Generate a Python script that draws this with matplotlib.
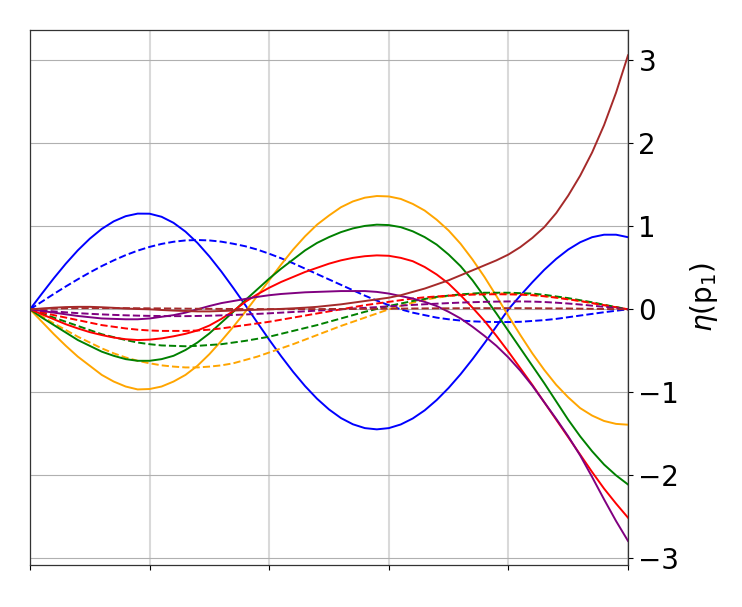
import numpy as np
import matplotlib
matplotlib.use("Agg")
import matplotlib.pyplot as plt

x = [0.00, 0.02, 0.04, 0.06, 0.08, 0.10, 0.12, 0.14, 0.16, 0.18, 0.20,
     0.22, 0.24, 0.26, 0.28, 0.30, 0.32, 0.34, 0.36, 0.38, 0.40,
     0.42, 0.44, 0.46, 0.48, 0.50, 0.52, 0.54, 0.56, 0.58, 0.60,
     0.62, 0.64, 0.66, 0.68, 0.70, 0.72, 0.74, 0.76, 0.78, 0.80,
     0.82, 0.84, 0.86, 0.88, 0.90, 0.92, 0.94, 0.96, 0.98, 1.00]

blue_solid = [0, 0.190, 0.376, 0.551, 0.711, 0.851, 0.969, 1.060, 1.122, 1.153, 1.152,
              1.115, 1.042, 0.936, 0.800, 0.637, 0.455, 0.257, 0.052, -0.158, -0.366,
              -0.565, -0.753, -0.925, -1.077, -1.206, -1.310, -1.385, -1.431, -1.446, -1.431,
              -1.387, -1.315, -1.217, -1.093, -0.947, -0.782, -0.600, -0.407, -0.205, 0.0,
              0.166, 0.326, 0.476, 0.608, 0.720, 0.808, 0.869, 0.899, 0.899, 0.869]
blue_dashed = [0, 0.093, 0.186, 0.276, 0.362, 0.444, 0.521, 0.590, 0.653, 0.707, 0.752,
               0.788, 0.814, 0.830, 0.835, 0.830, 0.815, 0.790, 0.760, 0.720, 0.670,
               0.615, 0.555, 0.490, 0.425, 0.360, 0.295, 0.230, 0.165, 0.105, 0.050,
               0.0, -0.04, -0.07, -0.10, -0.12, -0.135, -0.145, -0.15, -0.153, -0.153,
               -0.15, -0.14, -0.13, -0.115, -0.095, -0.075, -0.055, -0.035, -0.017, 0]
orange_solid = [0, -0.15, -0.30, -0.44, -0.57, -0.68, -0.79, -0.87, -0.93, -0.965, -0.96,
                -0.93, -0.87, -0.79, -0.68, -0.54, -0.38, -0.21, -0.03, 0.16, 0.35,
                0.54, 0.72, 0.88, 1.02, 1.13, 1.23, 1.30, 1.345, 1.365, 1.36,
                1.33, 1.27, 1.19, 1.08, 0.95, 0.79, 0.60, 0.39, 0.16, -0.08,
                -0.31, -0.53, -0.73, -0.91, -1.06, -1.19, -1.28, -1.345, -1.38, -1.39]
orange_dashed = [0, -0.085, -0.17, -0.25, -0.33, -0.40, -0.47, -0.53, -0.58, -0.62, -0.65,
                 -0.675, -0.69, -0.70, -0.70, -0.69, -0.675, -0.65, -0.61, -0.57, -0.52,
                 -0.47, -0.42, -0.365, -0.31, -0.255, -0.20, -0.15, -0.10, -0.05, 0.0,
                 0.04, 0.08, 0.115, 0.14, 0.16, 0.175, 0.185, 0.19, 0.193, 0.19,
                 0.185, 0.175, 0.16, 0.145, 0.125, 0.10, 0.075, 0.05, 0.025, 0]
green_solid = [0, -0.10, -0.19, -0.28, -0.37, -0.44, -0.51, -0.56, -0.60, -0.62, -0.62,
               -0.60, -0.56, -0.49, -0.40, -0.29, -0.16, -0.03, 0.11, 0.24, 0.37,
               0.49, 0.60, 0.71, 0.80, 0.87, 0.93, 0.975, 1.005, 1.02, 1.015,
               0.99, 0.94, 0.87, 0.78, 0.66, 0.52, 0.35, 0.15, -0.05, -0.26,
               -0.47, -0.68, -0.89, -1.11, -1.33, -1.53, -1.71, -1.87, -2.00, -2.11]
green_dashed = [0, -0.05, -0.10, -0.15, -0.20, -0.25, -0.30, -0.335, -0.37, -0.40, -0.42,
                -0.435, -0.44, -0.445, -0.44, -0.43, -0.42, -0.40, -0.38, -0.355, -0.33,
                -0.295, -0.26, -0.225, -0.19, -0.15, -0.11, -0.07, -0.03, 0.005, 0.04,
                0.07, 0.10, 0.125, 0.15, 0.165, 0.18, 0.19, 0.20, 0.20, 0.20,
                0.195, 0.19, 0.175, 0.155, 0.135, 0.11, 0.085, 0.055, 0.028, 0]
red_solid = [0, -0.06, -0.12, -0.18, -0.23, -0.275, -0.31, -0.34, -0.36, -0.37, -0.365,
             -0.35, -0.325, -0.295, -0.255, -0.195, -0.115, -0.02, 0.09, 0.18, 0.26,
             0.33, 0.39, 0.45, 0.50, 0.55, 0.59, 0.62, 0.64, 0.65, 0.645,
             0.62, 0.58, 0.51, 0.42, 0.31, 0.17, 0.02, -0.14, -0.32, -0.51,
             -0.71, -0.91, -1.12, -1.33, -1.54, -1.75, -1.96, -2.16, -2.34, -2.51]
red_dashed = [0, -0.035, -0.07, -0.10, -0.13, -0.16, -0.19, -0.21, -0.23, -0.245, -0.255,
              -0.26, -0.26, -0.26, -0.255, -0.245, -0.23, -0.21, -0.19, -0.17, -0.15,
              -0.125, -0.10, -0.075, -0.05, -0.025, 0.0, 0.025, 0.05, 0.07, 0.09,
              0.11, 0.13, 0.145, 0.155, 0.165, 0.17, 0.177, 0.18, 0.182, 0.18,
              0.177, 0.17, 0.157, 0.14, 0.12, 0.10, 0.075, 0.05, 0.025, 0]
purple_solid = [0, -0.02, -0.04, -0.06, -0.08, -0.095, -0.11, -0.115, -0.12, -0.12, -0.11,
                -0.09, -0.07, -0.04, 0.0, 0.04, 0.075, 0.10, 0.125, 0.15, 0.17,
                0.185, 0.195, 0.205, 0.21, 0.215, 0.22, 0.22, 0.22, 0.21, 0.19,
                0.16, 0.13, 0.09, 0.04, -0.03, -0.11, -0.21, -0.32, -0.44, -0.58,
                -0.74, -0.92, -1.12, -1.32, -1.53, -1.76, -2.02, -2.29, -2.55, -2.79]
purple_dashed = [0, -0.013, -0.025, -0.036, -0.046, -0.054, -0.061, -0.067, -0.072, -0.076, -0.079,
                 -0.081, -0.082, -0.082, -0.080, -0.077, -0.073, -0.068, -0.062, -0.055, -0.048,
                 -0.040, -0.032, -0.024, -0.016, -0.008, 0.0, 0.009, 0.018, 0.027, 0.036,
                 0.045, 0.053, 0.061, 0.068, 0.075, 0.081, 0.086, 0.090, 0.093, 0.095,
                 0.095, 0.093, 0.088, 0.080, 0.070, 0.058, 0.044, 0.030, 0.015, 0]
brown_solid = [0, 0.01, 0.02, 0.027, 0.03, 0.03, 0.025, 0.018, 0.01, 0.004, 0.0,
               -0.008, -0.015, -0.02, -0.025, -0.025, -0.02, -0.015, -0.01, -0.005, 0.0,
               0.005, 0.012, 0.02, 0.03, 0.045, 0.06, 0.08, 0.10, 0.12, 0.14,
               0.17, 0.21, 0.25, 0.30, 0.35, 0.41, 0.47, 0.53, 0.59, 0.66,
               0.75, 0.86, 0.99, 1.16, 1.37, 1.61, 1.89, 2.22, 2.61, 3.06]
brown_dashed = [0, 0.005, 0.009, 0.012, 0.014, 0.015, 0.015, 0.015, 0.014, 0.013, 0.012,
                0.011, 0.010, 0.008, 0.007, 0.006, 0.005, 0.004, 0.003, 0.003, 0.002,
                0.002, 0.002, 0.003, 0.003, 0.004, 0.004, 0.005, 0.006, 0.007, 0.008,
                0.009, 0.010, 0.011, 0.012, 0.012, 0.013, 0.013, 0.014, 0.014, 0.014,
                0.014, 0.013, 0.012, 0.011, 0.010, 0.008, 0.006, 0.004, 0.002, 0]

series = [
    ("blue", blue_solid, blue_dashed),
    ("orange", orange_solid, orange_dashed),
    ("green", green_solid, green_dashed),
    ("red", red_solid, red_dashed),
    ("purple", purple_solid, purple_dashed),
    ("brown", brown_solid, brown_dashed),
]

xticks = [0.0, 0.2, 0.4, 0.6, 0.8, 1.0]
yticks = [-3, -2, -1, 0, 1, 2, 3]

fig = plt.figure(figsize=(7.42, 6.07), dpi=100)
ax = fig.add_axes([30 / 742, 1 - 565 / 607, 598 / 742, 535 / 607])

for color, solid, dashed in series:
    ax.plot(x, solid, color=color, lw=1.4, ls='-')
    ax.plot(x, dashed, color=color, lw=1.4, ls='--')

ax.set_xlim(0, 1)
ax.set_ylim(-3.08, 3.365)
ax.set_xticks(xticks)
ax.set_xticklabels([])
ax.set_yticks(yticks)
ax.yaxis.tick_right()
ax.yaxis.set_label_position('right')
ax.tick_params(axis='y', labelsize=20, length=3.5, pad=4)
ax.tick_params(axis='x', length=3.5)
ax.set_ylabel(r'$\eta$(p$_1$)', fontsize=20, labelpad=6)

ax.xaxis.grid(True, color='#d9d9d9', lw=1.5)
ax.yaxis.grid(True, color='#b0b0b0', lw=0.8)
ax.set_axisbelow(True)
for sp in ax.spines.values():
    sp.set_color('#333333')
    sp.set_linewidth(0.9)

fig.savefig("out.png", dpi=100)
